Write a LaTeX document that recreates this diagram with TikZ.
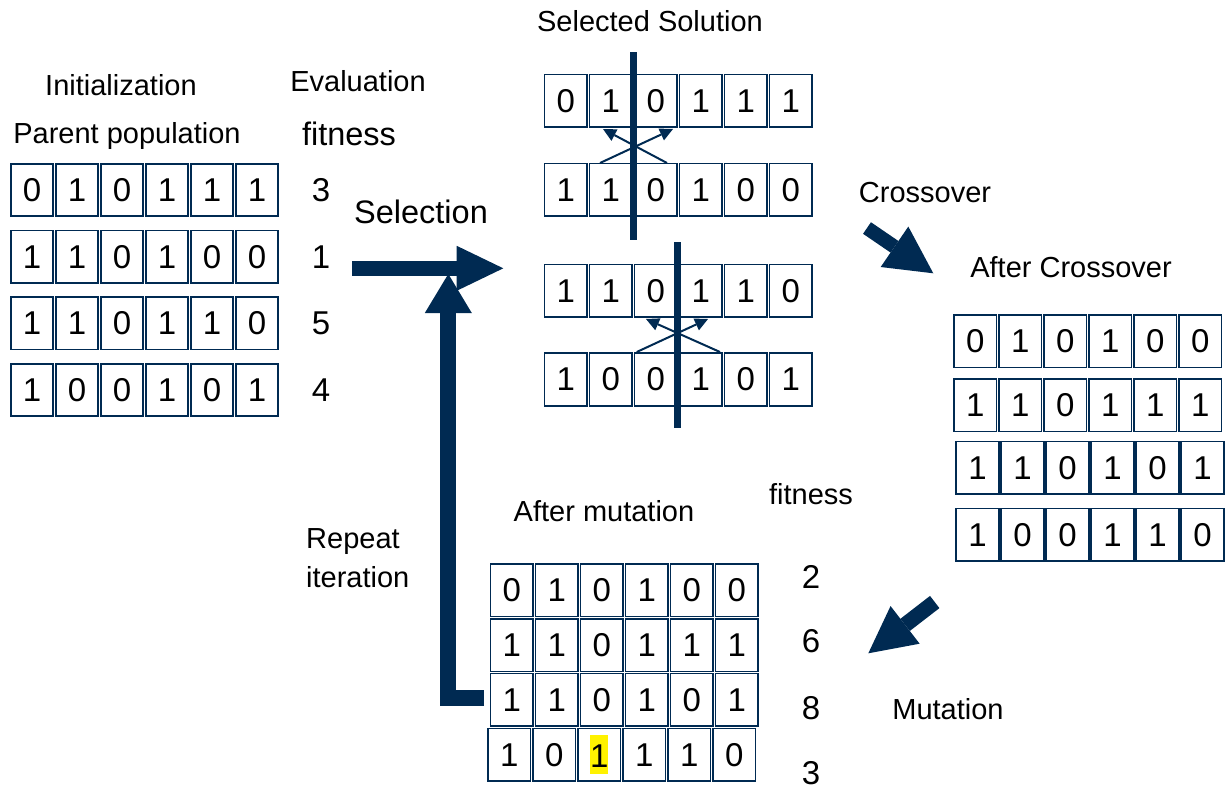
\documentclass[tikz,border=0pt]{standalone}
\usepackage{fontspec}
\setmainfont{Liberation Sans}
\usetikzlibrary{arrows.meta}
\definecolor{navy}{HTML}{002A52}

% one row of six bit cells: name prefix, x of first cell centre, y centre, bits
\newcommand\bitrow[4]{%
  \foreach \b [count=\i] in {#4}{%
    \node[bitcell] (#1-\i) at ({#2+45*(\i-1)},#3) {\b};}}
% a mutated bit, marked in yellow
\newcommand\mutbit{{\setlength\fboxsep{0pt}\colorbox{yellow}{\rule[-7pt]{0pt}{39pt}1}}}

\begin{document}
\begin{tikzpicture}[x=1pt,y=-1pt,
  bitcell/.style={draw=navy, line width=1.6pt, minimum width=42.5pt,
    minimum height=52.5pt, inner sep=0pt, font=\fontsize{33}{33}\selectfont},
  num/.style={inner sep=0pt, font=\fontsize{33}{33}\selectfont},
  lbl/.style={inner sep=0pt, anchor=base, font=\fontsize{29}{34}\selectfont},
  biglbl/.style={inner sep=0pt, anchor=base, font=\fontsize{32.5}{38}\selectfont},
  fat/.style={draw=navy, line width=15pt},
  swaparrow/.style={draw=navy, line width=2pt,
    -{Triangle[length=13pt,width=13pt,line width=0pt]}},
  cutbar/.style={draw=navy, line width=7pt}]
\useasboundingbox (0,0) rectangle (1225,788);

% ---- initial population and its fitness
\node[lbl] (init) at (121,95) {Initialization};
\node[lbl] (parent) at (127,143) {Parent population};
\node[lbl] (eval) at (358,91) {Evaluation};
\node[biglbl] (fit1) at (349,145) {fitness};
\bitrow{p1}{32}{190}{0,1,0,1,1,1}
\bitrow{p2}{32}{256.7}{1,1,0,1,0,0}
\bitrow{p3}{32}{323.3}{1,1,0,1,1,0}
\bitrow{p4}{32}{390}{1,0,0,1,0,1}
\node[num] (f1) at (321,190) {3};
\node[num] (f2) at (321,256.7) {1};
\node[num] (f3) at (321,323.3) {5};
\node[num] (f4) at (321,390) {4};

% ---- selection
\node[biglbl] (selection) at (421,223) {Selection};
\coordinate (selA) at (352,268.3);
\coordinate (selB) at (503.3,268.3);
\draw[fat, line width=15.3pt, -{Triangle[length=46.6pt,width=45pt,line width=0pt]}] (selA) -- (selB);

% ---- selected pairs with crossover points
\node[lbl] (selsol) at (650,31) {Selected Solution};
\bitrow{sa}{565.8}{100.8}{0,1,0,1,1,1}
\bitrow{sb}{565.8}{189.7}{1,1,0,1,0,0}
\bitrow{sc}{565.8}{290.8}{1,1,0,1,1,0}
\bitrow{sd}{565.8}{379.5}{1,0,0,1,0,1}

\coordinate (barAtop) at (633.3,52);
\coordinate (barAbot) at (633.3,240);
\draw[cutbar] (barAtop) -- (barAbot);
\coordinate (xa1) at (600,163);
\coordinate (xa2) at (673,129);
\coordinate (xa3) at (667,163);
\coordinate (xa4) at (603,129);
\draw[swaparrow] (xa1) -- (xa2);
\draw[swaparrow] (xa3) -- (xa4);

\coordinate (barBtop) at (677.7,242);
\coordinate (barBbot) at (677.7,428);
\draw[cutbar] (barBtop) -- (barBbot);
\coordinate (xb1) at (636.7,352);
\coordinate (xb2) at (708,319);
\coordinate (xb3) at (720,352);
\coordinate (xb4) at (646,319);
\draw[swaparrow] (xb1) -- (xb2);
\draw[swaparrow] (xb3) -- (xb4);

% ---- crossover
\node[lbl] (cross) at (925,202) {Crossover};
\coordinate (coA) at (867,228);
\coordinate (coB) at (933.3,273.3);
\draw[fat, line width=14pt, -{Triangle[length=47pt,width=49pt,line width=0pt]}] (coA) -- (coB);

\node[lbl] (aftercross) at (1071,277) {After Crossover};
\bitrow{c1}{975.2}{341.2}{0,1,0,1,0,0}
\bitrow{c2}{975.2}{405.2}{1,1,0,1,1,1}
\bitrow{c3}{977.5}{467.9}{1,1,0,1,0,1}
\bitrow{c4}{977.5}{534.8}{1,0,0,1,1,0}

% ---- mutation
\coordinate (muA) at (934.7,602);
\coordinate (muB) at (868.3,653.3);
\draw[fat, line width=15.4pt, -{Triangle[length=46.5pt,width=47.6pt,line width=0pt]}] (muA) -- (muB);
\node[lbl] (mut) at (948,719) {Mutation};

\node[lbl] (aftermut) at (604,521) {After mutation};
\node[lbl] (fit2) at (811,504) {fitness};
\bitrow{m1}{511.8}{590.2}{0,1,0,1,0,0}
\bitrow{m2}{511.8}{645.2}{1,1,0,1,1,1}
\bitrow{m3}{511.8}{699.7}{1,1,0,1,0,1}
\bitrow{m4}{509.2}{754.7}{1,0,\mutbit,1,1,0}
\node[num] (g1) at (811,577) {2};
\node[num] (g2) at (811,641) {6};
\node[num] (g3) at (811,708) {8};
\node[num] (g4) at (811,773) {3};

% ---- loop back to selection
\node[inner sep=0pt, anchor=west, align=left, font=\fontsize{29}{39}\selectfont]
  (repeat) at (306,558) {Repeat\\iteration};
\coordinate (repA) at (484,697.5);
\coordinate (repB) at (448.3,274);
\draw[fat, line width=16pt, -{Triangle[length=39pt,width=47pt,line width=0pt]}]
  (repA) -- (repA -| repB) -- (repB);
\end{tikzpicture}
\end{document}
